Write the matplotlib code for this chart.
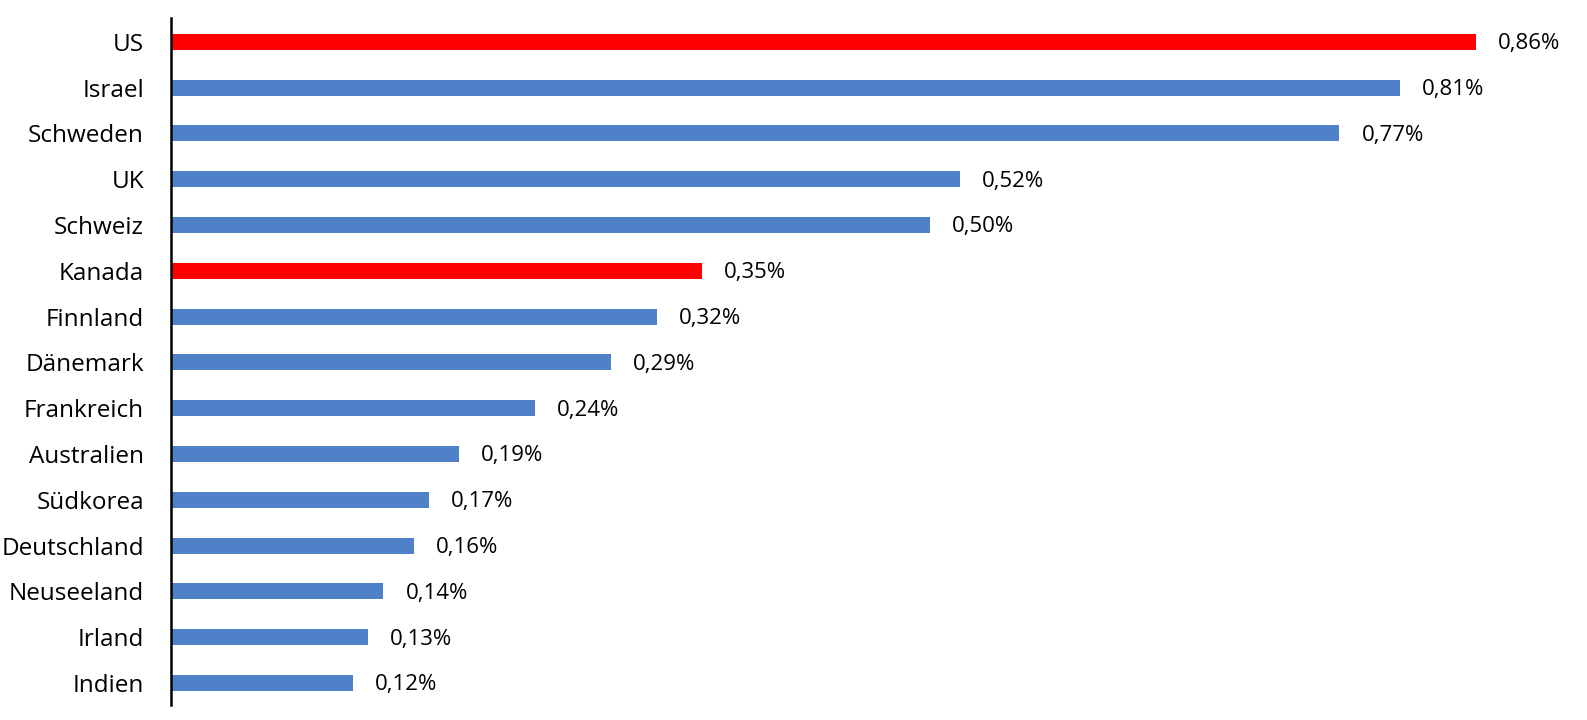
import matplotlib.pyplot as plt

countries = ["US", "Israel", "Schweden", "UK", "Schweiz", "Kanada", "Finnland",
             "Dänemark", "Frankreich", "Australien", "Südkorea", "Deutschland",
             "Neuseeland", "Irland", "Indien"]
values = [0.86, 0.81, 0.77, 0.52, 0.50, 0.35, 0.32, 0.29, 0.24, 0.19,
          0.17, 0.16, 0.14, 0.13, 0.12]
highlight = ["US", "Kanada"]

blue = "#4F81C8"
red = "#FF0000"
colors = [red if c in highlight else blue for c in countries]

plt.rcParams['font.family'] = ['Open Sans', 'DejaVu Sans']

fig = plt.figure(figsize=(15.87, 7.2), dpi=100)
ax = fig.add_axes([171 / 1587, 15 / 720, 1416 / 1587, 687 / 720])

pos = list(range(len(countries)))
ax.barh(pos, values, height=0.35, color=colors)

for p, v in zip(pos, values):
    ax.text(v + 0.0145, p + 0.04, f"{v:.2f}%".replace(".", ","),
            va="center", ha="left", fontsize=16)

ax.set_yticks(pos)
ax.set_yticklabels(countries, fontsize=17.5)
ax.tick_params(axis="y", length=0, pad=19.5)
ax.set_xticks([])
ax.set_xlim(0, 1416 / 1517.4)
ax.set_ylim(14.48, -0.52)

for s in ["top", "right", "bottom"]:
    ax.spines[s].set_visible(False)
ax.spines["left"].set_linewidth(1.8)
ax.spines["left"].set_color("black")

fig.savefig("out.png", dpi=100)
